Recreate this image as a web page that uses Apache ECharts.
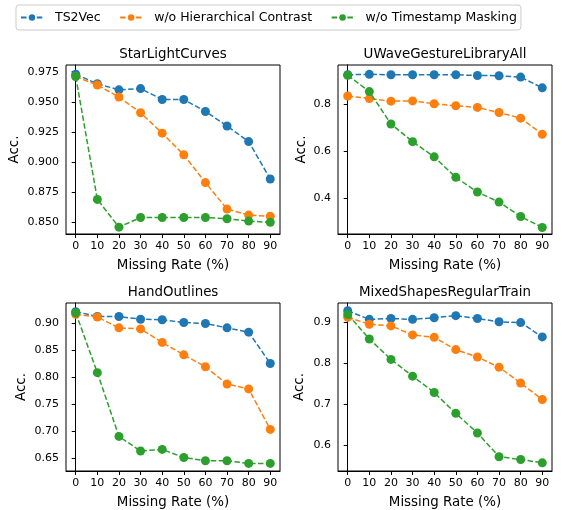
<!DOCTYPE html>
<html>
<head>
<meta charset="utf-8">
<script src="https://cdn.jsdelivr.net/npm/echarts@6/dist/echarts.min.js"></script>
<style>html,body{margin:0;padding:0;background:#fff;}#c{width:563px;height:510px;}</style>
</head>
<body>
<div id="c"></div>
<script>
const missingRates = [0, 10, 20, 30, 40, 50, 60, 70, 80, 90];
const seriesNames = ['TS2Vec', 'w/o Hierarchical Contrast', 'w/o Timestamp Masking'];
const datasetNames = ['StarLightCurves', 'UWaveGestureLibraryAll', 'HandOutlines', 'MixedShapesRegularTrain'];

const starTS2Vec = [0.973, 0.965, 0.960, 0.961, 0.952, 0.952, 0.942, 0.930, 0.917, 0.886];
const starNoHier = [0.971, 0.964, 0.954, 0.941, 0.924, 0.906, 0.883, 0.861, 0.856, 0.855];
const starNoMask = [0.971, 0.869, 0.846, 0.854, 0.854, 0.854, 0.854, 0.853, 0.851, 0.850];

const uwaveTS2Vec = [0.928, 0.930, 0.928, 0.928, 0.928, 0.928, 0.925, 0.924, 0.918, 0.872];
const uwaveNoHier = [0.837, 0.826, 0.815, 0.816, 0.804, 0.795, 0.788, 0.766, 0.742, 0.673];
const uwaveNoMask = [0.926, 0.856, 0.717, 0.641, 0.576, 0.488, 0.425, 0.382, 0.320, 0.273];

const handTS2Vec = [0.922, 0.913, 0.913, 0.908, 0.907, 0.902, 0.900, 0.892, 0.884, 0.826];
const handNoHier = [0.917, 0.912, 0.892, 0.890, 0.865, 0.842, 0.820, 0.788, 0.779, 0.704];
const handNoMask = [0.920, 0.809, 0.691, 0.664, 0.667, 0.652, 0.646, 0.646, 0.641, 0.641];

const mixedTS2Vec = [0.929, 0.908, 0.910, 0.908, 0.912, 0.917, 0.910, 0.902, 0.900, 0.865];
const mixedNoHier = [0.913, 0.896, 0.892, 0.870, 0.864, 0.834, 0.816, 0.791, 0.752, 0.712];
const mixedNoMask = [0.920, 0.860, 0.810, 0.769, 0.729, 0.678, 0.630, 0.572, 0.565, 0.557];

const yTicksStar = [0.850, 0.875, 0.900, 0.925, 0.950, 0.975];
const yTicksUwave = [0.4, 0.6, 0.8];
const yTicksHand = [0.65, 0.70, 0.75, 0.80, 0.85, 0.90];
const yTicksMixed = [0.6, 0.7, 0.8, 0.9];
const xTicks = [0, 10, 20, 30, 40, 50, 60, 70, 80, 90];

const panelData = [
  [starTS2Vec, starNoHier, starNoMask],
  [uwaveTS2Vec, uwaveNoHier, uwaveNoMask],
  [handTS2Vec, handNoHier, handNoMask],
  [mixedTS2Vec, mixedNoHier, mixedNoMask]
];
const panelTicks = [yTicksStar, yTicksUwave, yTicksHand, yTicksMixed];
const panelDecimals = [3, 1, 2, 1];
const panelYRange = [[0.8403, 0.9806], [0.245, 0.970], [0.627, 0.938], [0.537, 0.948]];

const FONT = 'DejaVu Sans';
const colors = ['#1f77b4', '#ff7f0e', '#2ca02c'];
const grids = [
  {left: 66, top: 65, width: 214, height: 169},
  {left: 338, top: 65, width: 214, height: 169},
  {left: 66, top: 303, width: 214, height: 169},
  {left: 338, top: 303, width: 214, height: 169}
];
const yNameGaps = [45, 30, 38, 32];

const option = {
  animation: false,
  backgroundColor: '#fff',
  color: colors,
  textStyle: {fontFamily: FONT},
  legend: {
    data: seriesNames,
    left: 16, top: 5,
    padding: [6, 4, 6, 4],
    borderColor: '#cccccc', borderWidth: 1, borderRadius: 3,
    itemWidth: 22, itemHeight: 8, itemGap: 18.5,
    textStyle: {fontFamily: FONT, fontSize: 12.5, color: '#000', padding: [0, 0, 0, 7]}
  },
  title: datasetNames.map((n, i) => ({
    text: n,
    left: grids[i].left + grids[i].width / 2,
    top: grids[i].top - 17,
    textAlign: 'center',
    padding: 0,
    textStyle: {fontFamily: FONT, fontSize: 13.4, fontWeight: 'normal', color: '#000'}
  })),
  grid: grids.map(g => Object.assign({show: true, borderColor: '#000', borderWidth: 1, backgroundColor: 'transparent'}, g)),
  xAxis: grids.map((g, i) => ({
    type: 'value', gridIndex: i, min: -4.5, max: 94.5,
    name: 'Missing Rate (%)', nameLocation: 'middle', nameGap: 25,
    nameTextStyle: {fontFamily: FONT, fontSize: 13.4, color: '#000'},
    axisLine: {show: true, lineStyle: {color: '#000', width: 1}},
    axisTick: {show: true, length: 4, lineStyle: {color: '#000'}, customValues: xTicks},
    axisLabel: {show: true, margin: 7, fontFamily: FONT, fontSize: 11, color: '#000', customValues: xTicks, formatter: v => String(v)},
    splitLine: {show: false}
  })),
  yAxis: grids.map((g, i) => ({
    type: 'value', gridIndex: i, min: panelYRange[i][0], max: panelYRange[i][1],
    name: 'Acc.', nameLocation: 'middle', nameGap: yNameGaps[i], nameRotate: 90,
    nameTextStyle: {fontFamily: FONT, fontSize: 13.4, color: '#000'},
    axisLine: {show: true, lineStyle: {color: '#000', width: 1}},
    axisTick: {show: true, length: 4, lineStyle: {color: '#000'}, customValues: panelTicks[i]},
    axisLabel: {show: true, margin: 7, fontFamily: FONT, fontSize: 11, color: '#000', customValues: panelTicks[i],
      formatter: v => Number(v).toFixed(panelDecimals[i])},
    splitLine: {show: false}
  })),
  series: []
};

panelData.forEach((arr, gi) => {
  arr.forEach((vals, si) => {
    option.series.push({
      name: seriesNames[si],
      type: 'line',
      xAxisIndex: gi, yAxisIndex: gi,
      data: missingRates.map((x, k) => [x, vals[k]]),
      symbol: 'circle', symbolSize: 9,
      showAllSymbol: true,
      lineStyle: {color: colors[si], width: 1.5, type: [5.5, 2.4]},
      itemStyle: {color: colors[si]},
      z: 2 + si
    });
  });
});

const chart = echarts.init(document.getElementById('c'), null, {renderer: 'canvas'});
chart.setOption(option);
</script>
</body>
</html>
